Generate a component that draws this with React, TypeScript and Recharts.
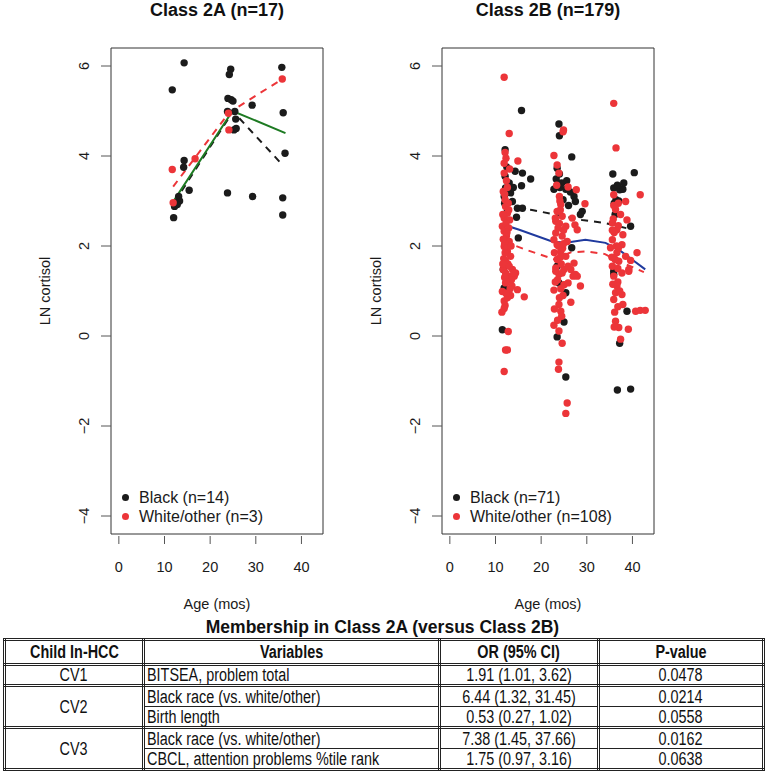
import React from "react";
import {
  ComposedChart,
  Scatter,
  Line,
  XAxis,
  YAxis,
  ReferenceArea,
  Legend,
} from "recharts";

type Pt = [number, number];

// ---- Class 2A (n=17) ----
const A_BLACK: Pt[] = [
  [14.3, 6.07], [11.7, 5.47], [24.5, 5.93], [24.2, 5.81], [35.7, 5.97],
  [23.9, 5.28], [24.6, 5.25], [25.0, 5.22], [29.2, 5.13], [23.8, 4.99],
  [25.4, 4.99], [25.6, 4.82], [25.2, 4.58], [25.7, 4.61], [36.0, 4.96],
  [36.4, 4.06], [14.3, 3.9], [14.2, 3.75], [15.4, 3.24], [23.8, 3.18],
  [29.3, 3.1], [35.9, 3.07], [35.9, 2.69], [12.0, 2.63], [13.1, 3.1],
  [13.3, 3.0], [12.4, 2.96], [12.2, 2.88], [12.8, 2.92],
];
const A_RED: Pt[] = [
  [11.7, 3.7], [16.7, 3.94], [11.9, 2.96], [24.0, 4.95], [24.1, 4.58], [35.8, 5.71],
];
const A_BLACK_FIT: Pt[] = [[12.2, 2.98], [25.0, 4.99], [35.5, 3.84]];
const A_RED_FIT: Pt[] = [[11.9, 3.32], [24.2, 4.97], [35.8, 5.71]];
const A_ALL_FIT: Pt[] = [[12.2, 3.03], [24.9, 5.0], [36.5, 4.51]];

// ---- Class 2B (n=179) ----
const B_BLACK: Pt[] = [
  [15.7, 5.01], [12.1, 4.14], [14.3, 3.66], [15.9, 3.62], [17.7, 3.49],
  [15.7, 3.34], [12.1, 3.55], [13.0, 3.4], [12.2, 3.29], [13.3, 3.18],
  [11.9, 3.1], [13.7, 2.99], [14.8, 2.84], [15.9, 2.84], [12.4, 2.73],
  [14.6, 2.64], [15.0, 2.18], [11.7, 1.48], [11.9, 1.07], [11.5, 0.14],
  [12.6, 3.2], [12.0, 2.95], [13.9, 3.3], [12.5, 3.75],
  [23.9, 4.71], [24.0, 4.45], [26.7, 3.98], [23.5, 3.73], [23.3, 3.49],
  [24.5, 3.4], [22.8, 3.26], [25.4, 3.26], [27.2, 3.1], [27.5, 2.99],
  [29.0, 2.77], [28.6, 2.7], [24.8, 3.03], [26.7, 1.96], [23.5, 1.55],
  [23.9, 1.18], [25.4, 0.96], [25.0, 0.31], [23.5, -0.02], [25.4, -0.91],
  [26.4, 3.2], [24.0, 3.6], [25.6, 3.45], [24.1, 3.3], [26.0, 2.9],
  [35.7, 3.6], [40.4, 3.63], [35.9, 3.29], [37.2, 3.25], [37.9, 3.26],
  [36.4, 3.03], [39.6, 2.44], [35.9, 1.37], [35.9, 1.44], [38.8, 0.55],
  [37.2, -0.16], [36.7, -1.2], [39.6, -1.18], [37.0, 3.0], [36.2, 2.7],
  [36.7, 3.35], [38.1, 3.4], [36.0, 2.95],
];
const B_RED: Pt[] = [
  [11.9, 5.75], [13.0, 4.5], [12.1, 4.08], [14.9, 3.89], [11.9, 3.84],
  [13.1, 3.71], [11.9, 3.62], [11.7, 3.21], [12.1, 3.03], [12.2, 2.88],
  [12.6, 2.73], [11.9, 2.62], [13.1, 2.58], [11.5, 2.44], [11.9, 2.33],
  [12.4, 2.22], [13.0, 2.1], [11.9, 1.99], [12.6, 1.88], [13.3, 1.77],
  [12.2, 1.66], [11.7, 1.48], [13.7, 1.48], [14.4, 1.4], [13.0, 1.33],
  [14.1, 1.33], [12.2, 1.4], [14.1, 1.4], [12.2, 1.18], [11.5, 0.99],
  [13.6, 1.11], [14.8, 1.03], [13.3, 0.9], [16.3, 0.87], [11.9, 0.78],
  [12.1, 0.68], [11.9, 0.61], [11.4, 0.53], [12.8, 0.1], [12.2, -0.31],
  [12.6, -0.31], [11.9, -0.79], [12.4, 3.45], [12.0, 3.15], [12.8, 2.95],
  [12.3, 2.5], [12.9, 2.4], [12.0, 2.05], [12.5, 1.95], [11.8, 1.72],
  [12.7, 1.6], [13.5, 1.25], [12.0, 1.3], [12.3, 3.95], [12.6, 3.3],
  [12.9, 2.8], [11.6, 2.7], [12.5, 2.3], [11.7, 2.15], [13.4, 2.0],
  [12.1, 1.85], [11.6, 1.6], [13.0, 1.55], [12.4, 1.2], [13.2, 1.05],
  [12.6, 0.85], [12.3, 0.95],
  [24.9, 4.58], [22.8, 4.01], [24.8, 4.54], [23.5, 3.8], [23.9, 3.62],
  [25.9, 3.31], [27.7, 3.25], [29.6, 2.94], [26.8, 2.62], [24.0, 3.1],
  [24.3, 2.92], [23.5, 2.77], [24.6, 2.66], [23.2, 2.55], [25.4, 2.44],
  [27.9, 2.36], [27.4, 2.47], [23.2, 2.29], [24.6, 2.22], [22.8, 2.14],
  [25.7, 2.1], [23.5, 2.03], [24.3, 1.88], [25.4, 1.77], [23.5, 1.7],
  [27.2, 1.62], [23.2, 1.51], [25.0, 1.48], [26.5, 1.48], [27.5, 1.37],
  [23.9, 1.37], [23.2, 1.44], [24.6, 1.4], [27.0, 1.33], [27.9, 1.33],
  [25.0, 1.14], [25.9, 1.18], [28.6, 1.11], [22.8, 1.02], [26.5, 0.75],
  [23.9, 0.7], [24.3, 0.55], [24.5, 0.44], [22.8, 0.24], [23.9, 0.11],
  [24.6, -0.16], [23.9, -0.58], [23.8, -0.74], [25.7, -1.49], [25.4, -1.72],
  [24.0, 2.5], [23.8, 2.0], [24.4, 1.6], [23.6, 1.25], [24.8, 0.9],
  [24.2, 2.8], [24.7, 1.95], [23.4, 3.35], [24.1, 3.0], [23.1, 2.62],
  [24.9, 2.35], [23.7, 2.4], [24.9, 2.05], [22.9, 1.85], [24.2, 1.75],
  [25.9, 1.55], [23.1, 1.2], [24.3, 1.05], [24.0, 0.85], [22.9, 0.6],
  [23.6, 0.35],
  [35.9, 5.17], [36.4, 4.18], [41.7, 3.14], [35.9, 3.14], [38.5, 2.99],
  [36.3, 2.81], [37.4, 2.7], [38.8, 2.58], [35.6, 2.51], [36.6, 2.36],
  [37.9, 2.25], [35.6, 2.14], [37.7, 2.03], [35.2, 1.96], [36.6, 1.85],
  [41.0, 1.85], [38.5, 1.77], [39.6, 1.68], [37.0, 1.66], [35.6, 1.55],
  [39.2, 1.48], [37.7, 1.4], [39.2, 1.44], [35.9, 1.33], [36.6, 1.11],
  [36.3, 0.96], [35.9, 0.81], [37.7, 0.92], [37.9, 0.7], [36.1, 0.53],
  [40.7, 0.55], [41.7, 0.57], [42.8, 0.57], [36.3, 0.33], [37.0, 0.19],
  [39.1, 0.15], [37.4, -0.07], [36.0, 2.3], [36.5, 2.0], [36.2, 1.7],
  [36.8, 1.2], [35.8, 2.6], [36.9, 2.95], [35.9, 2.9], [36.9, 2.45],
  [35.6, 2.35], [36.9, 1.95], [35.5, 1.75], [36.8, 1.5], [35.7, 1.15],
  [37.2, 1.0], [36.0, 0.2], [36.8, 0.65],
];
const B_BLACK_FIT: Pt[] = [[11.9, 2.85], [18, 2.8], [24, 2.68], [29, 2.58], [34, 2.51], [39.8, 2.37]];
const B_RED_FIT: Pt[] = [[11.9, 2.1], [16.6, 1.92], [23, 1.7], [26.5, 1.86], [30, 1.88], [34, 1.82], [37, 1.66], [42.5, 1.42]];
const B_ALL_FIT: Pt[] = [[11.9, 2.47], [15.2, 2.36], [22.4, 2.1], [25.4, 2.07], [29.7, 2.14], [34.1, 2.07], [37, 1.92], [39.9, 1.7], [42.8, 1.48]];

const X_TICKS = [0, 10, 20, 30, 40];
const Y_TICKS = [-4, -2, 0, 2, 4, 6];

// ---- table ----
const TABLE_HEAD = ["Child In-HCC", "Variables", "OR (95% CI)", "P-value"];
const TABLE_ROWS = [
  { group: "CV1", span: 1, variable: "BITSEA, problem total", or: "1.91 (1.01, 3.62)", p: "0.0478" },
  { group: "CV2", span: 2, variable: "Black race (vs. white/other)", or: "6.44 (1.32, 31.45)", p: "0.0214" },
  { group: "", span: 0, variable: "Birth length", or: "0.53 (0.27, 1.02)", p: "0.0558" },
  { group: "CV3", span: 2, variable: "Black race (vs. white/other)", or: "7.38 (1.45, 37.66)", p: "0.0162" },
  { group: "", span: 0, variable: "CBCL, attention problems %tile rank", or: "1.75 (0.97, 3.16)", p: "0.0638" },
];

const BLACK = "#1b1b1b";
const RED = "#ec3539";
const FONT = "'Liberation Sans', Arial, Helvetica, sans-serif";
const X_DOMAIN: [number, number] = [-1.72, 44.72];
const Y_DOMAIN: [number, number] = [-4.4, 6.4];

const toXY = (pts: Pt[]) => pts.map(([x, y]) => ({ x, y }));
const fmt = (v: number) => (v < 0 ? `\u2212${Math.abs(v)}` : `${v}`);

function XTick({ x, y, payload }: any) {
  return (
    <g>
      <line x1={x} y1={y + 2} x2={x} y2={y + 10} stroke="#555" />
      <text x={x} y={y + 38} textAnchor="middle" fontSize={14.5} fill="#1a1a1a" fontFamily={FONT}>
        {fmt(payload.value)}
      </text>
    </g>
  );
}

function YTick({ x, y, payload }: any) {
  const tx = x - 27;
  return (
    <g>
      <line x1={x - 10} y1={y} x2={x} y2={y} stroke="#555" />
      <text
        x={tx}
        y={y}
        transform={`rotate(-90 ${tx} ${y})`}
        textAnchor="middle"
        dominantBaseline="central"
        fontSize={14.5}
        fill="#1a1a1a"
        fontFamily={FONT}
      >
        {fmt(payload.value)}
      </text>
    </g>
  );
}

function dot(color: string) {
  return (props: any) => <circle cx={props.cx} cy={props.cy} r={3.7} fill={color} />;
}

function LegendBox({ items }: { items: { label: string; color: string }[] }) {
  return (
    <div style={{ fontFamily: FONT, fontSize: 16, color: "#1a1a1a", lineHeight: "19px" }}>
      {items.map((it) => (
        <div key={it.label} style={{ display: "flex", alignItems: "center", whiteSpace: "nowrap" }}>
          <span
            style={{ display: "inline-block", width: 7, height: 7, borderRadius: 4, background: it.color, marginRight: 10 }}
          />
          {it.label}
        </div>
      ))}
    </div>
  );
}

type PanelProps = {
  left: number;
  title: string;
  black: Pt[];
  red: Pt[];
  blackFit: Pt[];
  redFit: Pt[];
  allFit: Pt[];
  allColor: string;
  legend: string[];
};

function Panel({ left, title, black, red, blackFit, redFit, allFit, allColor, legend }: PanelProps) {
  return (
    <div style={{ position: "absolute", left, top: 0, width: 330, height: 620 }}>
      <div
        style={{
          position: "absolute",
          left: 111,
          width: 212,
          top: 0,
          textAlign: "center",
          fontFamily: FONT,
          fontWeight: "bold",
          fontSize: 18,
          color: "#111",
        }}
      >
        {title}
      </div>
      <ComposedChart width={330} height={620} margin={{ top: 48, right: 7, bottom: 11, left: 0 }}>
        <XAxis
          type="number"
          dataKey="x"
          domain={X_DOMAIN}
          ticks={X_TICKS}
          interval={0}
          allowDataOverflow
          axisLine={false}
          tickLine={false}
          tickSize={0}
          tickMargin={0}
          height={75}
          tick={<XTick />}
          label={{
            value: "Age (mos)",
            position: "insideBottom",
            offset: 0,
            style: { fontSize: 14.5, fill: "#1a1a1a", fontFamily: FONT },
          }}
        />
        <YAxis
          type="number"
          dataKey="y"
          domain={Y_DOMAIN}
          ticks={Y_TICKS}
          interval={0}
          allowDataOverflow
          axisLine={false}
          tickLine={false}
          tickSize={0}
          tickMargin={0}
          width={111}
          tick={<YTick />}
          label={{
            value: "LN cortisol",
            angle: -90,
            position: "insideLeft",
            offset: 45,
            style: { fontSize: 14.5, fill: "#1a1a1a", fontFamily: FONT, textAnchor: "middle" },
          }}
        />
        <ReferenceArea
          x1={X_DOMAIN[0]}
          x2={X_DOMAIN[1]}
          y1={Y_DOMAIN[0]}
          y2={Y_DOMAIN[1]}
          fill="none"
          stroke="#333"
          strokeWidth={1}
          ifOverflow="visible"
        />
        <Scatter name="Black" data={toXY(black)} fill={BLACK} shape={dot(BLACK)} isAnimationActive={false} />
        <Scatter name="White/other" data={toXY(red)} fill={RED} shape={dot(RED)} isAnimationActive={false} />
        <Line
          data={toXY(blackFit)}
          dataKey="y"
          type="linear"
          stroke={BLACK}
          strokeWidth={2}
          strokeDasharray="7 6"
          dot={false}
          activeDot={false}
          isAnimationActive={false}
          legendType="none"
        />
        <Line
          data={toXY(redFit)}
          dataKey="y"
          type="linear"
          stroke={RED}
          strokeWidth={2}
          strokeDasharray="7 6"
          dot={false}
          activeDot={false}
          isAnimationActive={false}
          legendType="none"
        />
        <Line
          data={toXY(allFit)}
          dataKey="y"
          type="linear"
          stroke={allColor}
          strokeWidth={2}
          dot={false}
          activeDot={false}
          isAnimationActive={false}
          legendType="none"
        />
        <Legend
          layout="vertical"
          align="center"
          verticalAlign="middle"
          wrapperStyle={{ left: 122, top: 488, width: "auto" }}
          content={() => (
            <LegendBox
              items={[
                { label: legend[0], color: BLACK },
                { label: legend[1], color: RED },
              ]}
            />
          )}
        />
      </ComposedChart>
    </div>
  );
}

const THICK = "3px double #222";
const THIN = "1px solid #222";

// condensed look of the original table text
function Narrow({ children, origin = "center" }: { children: React.ReactNode; origin?: string }) {
  return (
    <span style={{ display: "inline-block", transform: "scaleX(0.8)", transformOrigin: origin, whiteSpace: "nowrap" }}>
      {children}
    </span>
  );
}

function ResultsTable() {
  const cell = (extra: React.CSSProperties = {}): React.CSSProperties => ({
    border: THICK,
    padding: "0 2px",
    textAlign: "center",
    verticalAlign: "middle",
    lineHeight: "18px",
    ...extra,
  });
  return (
    <>
      <div
        style={{
          position: "absolute",
          top: 617,
          left: 0,
          width: 765,
          textAlign: "center",
          fontFamily: FONT,
          fontWeight: "bold",
          fontSize: 17.5,
          color: "#111",
        }}
      >
        Membership in Class 2A (versus Class 2B)
      </div>
      <table
        style={{
          position: "absolute",
          top: 638,
          left: 3,
          width: 759,
          borderCollapse: "collapse",
          fontFamily: FONT,
          fontSize: 18,
          color: "#111",
          tableLayout: "fixed",
        }}
      >
        <colgroup>
          <col style={{ width: 139 }} />
          <col style={{ width: 296 }} />
          <col style={{ width: 159 }} />
          <col style={{ width: 165 }} />
        </colgroup>
        <thead>
          <tr style={{ height: 25 }}>
            {TABLE_HEAD.map((h) => (
              <th key={h} style={cell({ fontWeight: "bold" })}>
                <Narrow>{h}</Narrow>
              </th>
            ))}
          </tr>
        </thead>
        <tbody>
          {TABLE_ROWS.map((r, i) => {
            const inner: React.CSSProperties = {};
            if (r.span === 2) inner.borderBottom = THIN;
            if (r.span === 0) inner.borderTop = THIN;
            return (
              <tr key={i} style={{ height: 21 }}>
                {r.span > 0 && (
                  <td rowSpan={r.span} style={cell()}>
                    <Narrow>{r.group}</Narrow>
                  </td>
                )}
                <td style={cell({ textAlign: "left", ...inner })}>
                  <Narrow origin="left center">{r.variable}</Narrow>
                </td>
                <td style={cell(inner)}>
                  <Narrow>{r.or}</Narrow>
                </td>
                <td style={cell(inner)}>
                  <Narrow>{r.p}</Narrow>
                </td>
              </tr>
            );
          })}
        </tbody>
      </table>
    </>
  );
}

export default function App() {
  return (
    <div style={{ position: "absolute", left: 0, top: 0, width: 765, height: 775, background: "#fff" }}>
      <Panel
        left={0}
        title="Class 2A (n=17)"
        black={A_BLACK}
        red={A_RED}
        blackFit={A_BLACK_FIT}
        redFit={A_RED_FIT}
        allFit={A_ALL_FIT}
        allColor="#1d7a22"
        legend={["Black (n=14)", "White/other (n=3)"]}
      />
      <Panel
        left={331}
        title="Class 2B (n=179)"
        black={B_BLACK}
        red={B_RED}
        blackFit={B_BLACK_FIT}
        redFit={B_RED_FIT}
        allFit={B_ALL_FIT}
        allColor="#1f3a9e"
        legend={["Black (n=71)", "White/other (n=108)"]}
      />
      <ResultsTable />
    </div>
  );
}
